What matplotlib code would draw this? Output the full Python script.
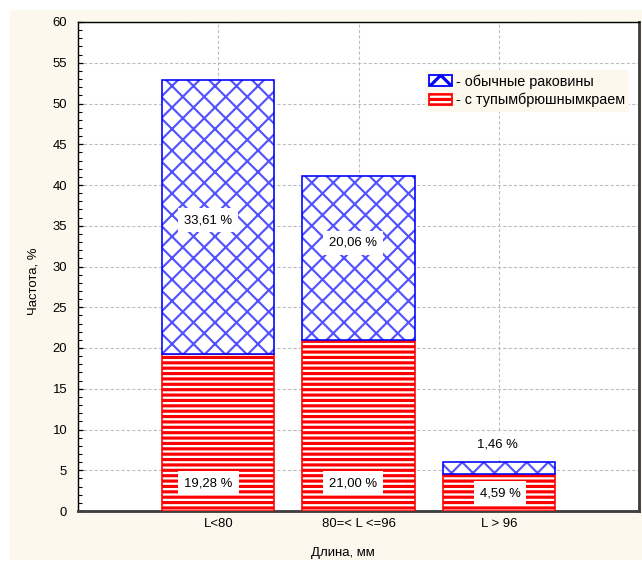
import matplotlib

matplotlib.use("Agg")
import matplotlib.pyplot as plt
from matplotlib.patches import Patch, Rectangle
from matplotlib.ticker import MultipleLocator

categories = ["L<80", "80=< L <=96", "L > 96"]
blunt = [19.28, 21.00, 4.59]   # с тупым брюшным краем (bottom)
usual = [33.61, 20.06, 1.46]   # обычные раковины (top)
legend_labels = ["- обычные раковины", "- с тупымбрюшнымкраем"]

# where the value labels sit (data coords), as placed in the original
usual_lbl_xy = [(-0.07, 35.7), (-0.04, 32.9), (-0.01, 8.1)]
blunt_lbl_xy = [(-0.07, 3.4), (-0.04, 3.4), (0.01, 2.2)]

DPI = 129  # hatch cell = dpi pixels, so 'xx' gives the ~21px diamonds of the original
CREAM = "#fcf8ee"
BLUE_HATCH = (0.0, 0.0, 1.0, 0.68)
plt.rcParams["font.family"] = ["Liberation Sans", "DejaVu Sans"]
FS = 7.3

fig = plt.figure(figsize=(642 / DPI, 565 / DPI), dpi=DPI)
fig.patch.set_facecolor("white")
fig.patches.append(Rectangle((10 / 642, 5 / 565), 1, 1 - 15 / 565,
                             transform=fig.transFigure, fc=CREAM, ec="none", zorder=-10))

ax = fig.add_axes([78 / 642, 54 / 565, 561 / 642, 489 / 565])
ax.set_facecolor("white")
x = list(range(len(categories)))


def hatch_lw(patches, lw):
    for p in patches:
        if hasattr(p, "set_hatch_linewidth"):
            p.set_hatch_linewidth(lw)


plt.rcParams["hatch.linewidth"] = 1.75
red = ax.bar(x, blunt, width=0.8, color="white", edgecolor="red", hatch="----", lw=0.9, zorder=3)
hatch_lw(red, 1.75)
plt.rcParams["hatch.linewidth"] = 1.2
blue = ax.bar(x, usual, bottom=blunt, width=0.8, color="white", edgecolor=BLUE_HATCH,
              hatch="xx", lw=0, zorder=3)
hatch_lw(blue, 1.2)
ax.bar(x, usual, bottom=blunt, width=0.8, fill=False, edgecolor="#0000ff", lw=0.9, zorder=4)

box = dict(boxstyle="square,pad=0.45", fc="white", ec="none")
for i in x:
    dx, y = usual_lbl_xy[i]
    ax.text(i + dx, y, f"{usual[i]:.2f}".replace(".", ",") + " %", ha="center", va="center",
            fontsize=FS, bbox=box, zorder=5)
    dx, y = blunt_lbl_xy[i]
    ax.text(i + dx, y, f"{blunt[i]:.2f}".replace(".", ",") + " %", ha="center", va="center",
            fontsize=FS, bbox=box, zorder=5)

ax.set_xlim(-1, 3)
ax.set_ylim(0, 60)
ax.set_xticks(x)
ax.set_xticklabels(categories)
ax.yaxis.set_major_locator(MultipleLocator(5))
ax.yaxis.set_minor_locator(MultipleLocator(1))
ax.tick_params(axis="both", which="both", direction="in", labelsize=FS, colors="black")
ax.tick_params(axis="y", which="major", length=3, width=0.7, pad=6)
ax.tick_params(axis="y", which="minor", length=2.5, width=0.6)
ax.tick_params(axis="x", which="major", length=2, width=0.7, pad=4)
ax.grid(True, color="#bdbdbd", linestyle=(0, (3, 2)), lw=0.6)
ax.set_axisbelow(True)

for s in ("top", "left"):
    ax.spines[s].set_linewidth(0.8)
    ax.spines[s].set_color("black")
for s in ("right", "bottom"):
    ax.spines[s].set_linewidth(1.6)
    ax.spines[s].set_color("#404040")

plt.rcParams["hatch.linewidth"] = 1.2
h1 = Patch(facecolor="white", edgecolor="#0000ff", hatch="xx", lw=1.0)
plt.rcParams["hatch.linewidth"] = 1.75
h2 = Patch(facecolor="white", edgecolor="red", hatch="----", lw=1.0)
hatch_lw([h1], 1.2)
hatch_lw([h2], 1.75)
leg = ax.legend([h1, h2], legend_labels, loc="upper left", bbox_to_anchor=(0.618, 0.902),
                fontsize=8.0, frameon=True, fancybox=False, facecolor=CREAM, edgecolor="none",
                framealpha=1, handlelength=1.6, handleheight=0.75, handletextpad=0.25,
                labelspacing=0.3, borderpad=0.3, borderaxespad=0)
leg.set_zorder(6)

fig.text(33 / 642, 1 - 281 / 565, "Частота, %", rotation=90, ha="center", va="center", fontsize=FS)
fig.text(343 / 642, 1 - 553 / 565, "Длина, мм", ha="center", va="center", fontsize=FS)

fig.savefig("out.png", dpi=DPI)
